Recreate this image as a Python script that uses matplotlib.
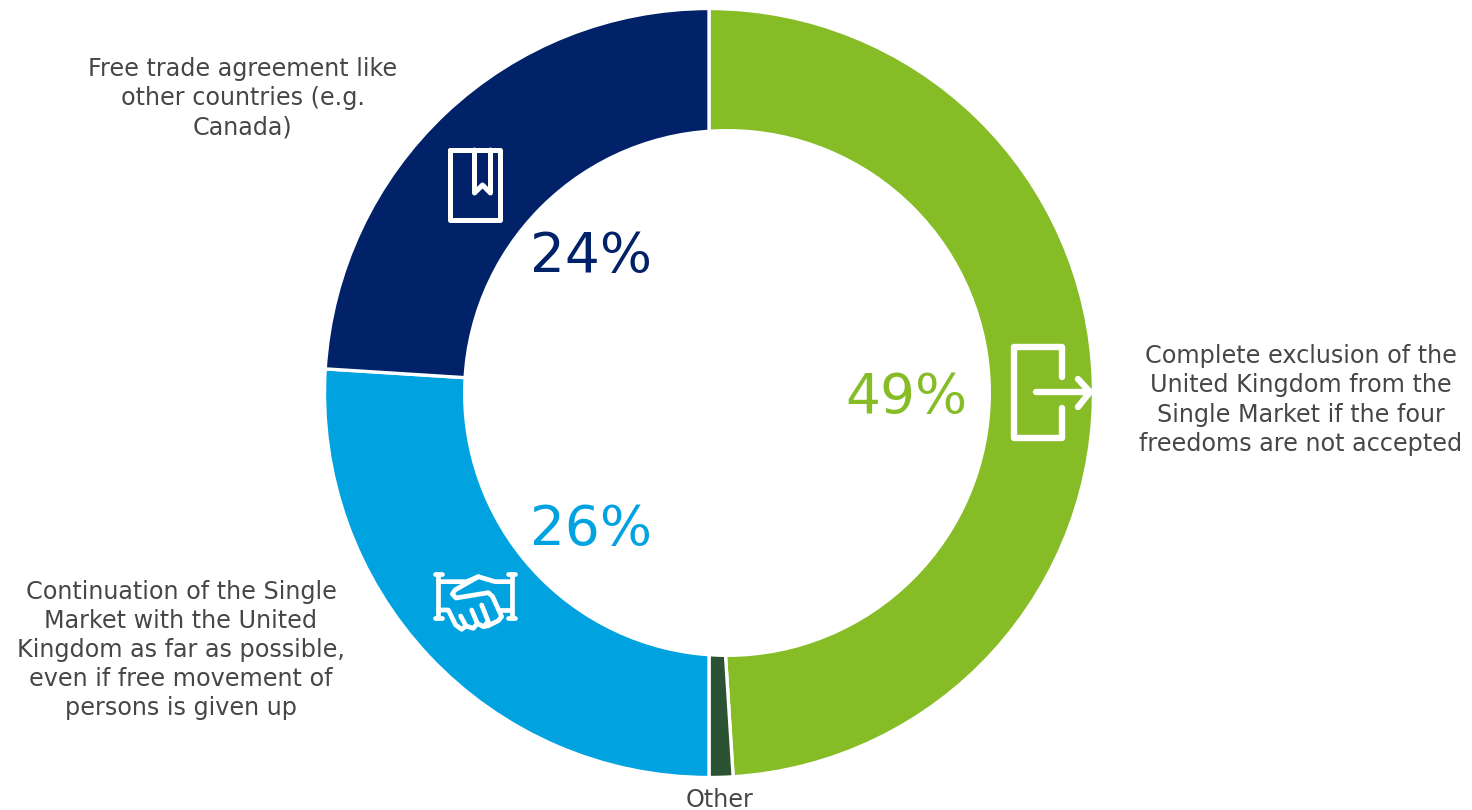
import matplotlib
matplotlib.use('Agg')
import matplotlib.pyplot as plt
from matplotlib.patches import Circle

# survey shares, clockwise from twelve o'clock
segments = ['Complete exclusion of the\nUnited Kingdom from the\nSingle Market if the four\nfreedoms are not accepted',
            'Other',
            'Continuation of the Single\nMarket with the United\nKingdom as far as possible,\neven if free movement of\npersons is given up',
            'Free trade agreement like\nother countries (e.g.\nCanada)']
shares = [49, 1, 26, 24]

colors = ['#86BC25', '#2C5234', '#00A3E0', '#012169']
W, H = 1472, 810
CX, CY, R_OUT = 709, 393, 384.5
# the hole sits a little right of the pie centre
HOLE_X, HOLE_Y, R_HOLE = 727, 393, 264


def flip(points):
    # icons are laid out with y running downwards
    return [p[0] for p in points], [H - p[1] for p in points]


def stroke(ax, points, lw=3.6):
    xs, ys = flip(points)
    ax.plot(xs, ys, color='white', lw=lw, solid_capstyle='round',
            solid_joinstyle='round', zorder=5)


def hand(ax, points):
    # handshake outline, coordinates on a 3x grid
    stroke(ax, [(420 + x / 3, 560 + y / 3) for x, y in points], 3.4)


fig = plt.figure(figsize=(W / 100, H / 100), dpi=100)
ax = fig.add_axes([0, 0, 1, 1])

ax.pie(shares, colors=colors, startangle=90, counterclock=False,
       center=(CX, H - CY), radius=R_OUT,
       wedgeprops=dict(edgecolor='white', linewidth=2.4))
ax.add_patch(Circle((HOLE_X, H - HOLE_Y), R_HOLE, facecolor='white',
                    edgecolor='none', zorder=3))
ax.set_xlim(0, W)
ax.set_ylim(0, H)
ax.set_aspect('equal')
ax.axis('off')

# percentages inside the ring
value_pos = [(906, 398), None, (591, 530), (591, 257)]
for val, pos, col in zip(shares, value_pos, colors):
    if pos is not None:
        ax.text(pos[0], H - pos[1], f'{val}%', color=col, fontsize=39.5,
                ha='center', va='center', zorder=6)

# category captions
caption_pos = [(1301, 400), (720, 800), (181, 650), (243, 98)]
for txt, pos in zip(segments, caption_pos):
    ax.text(pos[0], H - pos[1], txt, color='#464646', fontsize=17.2,
            ha='center', va='center', linespacing=1.275)

# book icon
stroke(ax, [(450, 150), (500, 150), (500, 220), (450, 220), (450, 150)])
stroke(ax, [(474.5, 150), (474.5, 193), (482.5, 185), (490.5, 193), (490.5, 150)])

# exit icon
stroke(ax, [(1062, 377), (1062, 347), (1013.5, 347), (1013.5, 438), (1062, 438), (1062, 408)], 4.6)
stroke(ax, [(1036, 392), (1090, 392)], 4.6)
stroke(ax, [(1078, 379), (1090, 392), (1078, 407)], 4.6)

# handshake icon
hand(ax, [(55, 43), (55, 175)])
hand(ax, [(275, 43), (275, 175)])
hand(ax, [(45, 43), (65, 43)])
hand(ax, [(265, 43), (285, 43)])
hand(ax, [(45, 175), (65, 175)])
hand(ax, [(265, 175), (285, 175)])
hand(ax, [(55, 65), (140, 65), (175, 50), (225, 65), (275, 65)])
hand(ax, [(175, 50), (105, 90), (97, 102), (108, 114), (205, 98), (218, 110), (245, 170), (235, 182), (205, 197)])
hand(ax, [(55, 150), (85, 150), (107, 195), (125, 208), (138, 198), (122, 168)])
hand(ax, [(138, 198), (160, 205), (172, 190), (155, 150)])
hand(ax, [(172, 190), (190, 200), (205, 185), (185, 135)])
hand(ax, [(190, 200), (205, 197)])
hand(ax, [(240, 150), (275, 150)])

fig.savefig('out.png', dpi=100)
